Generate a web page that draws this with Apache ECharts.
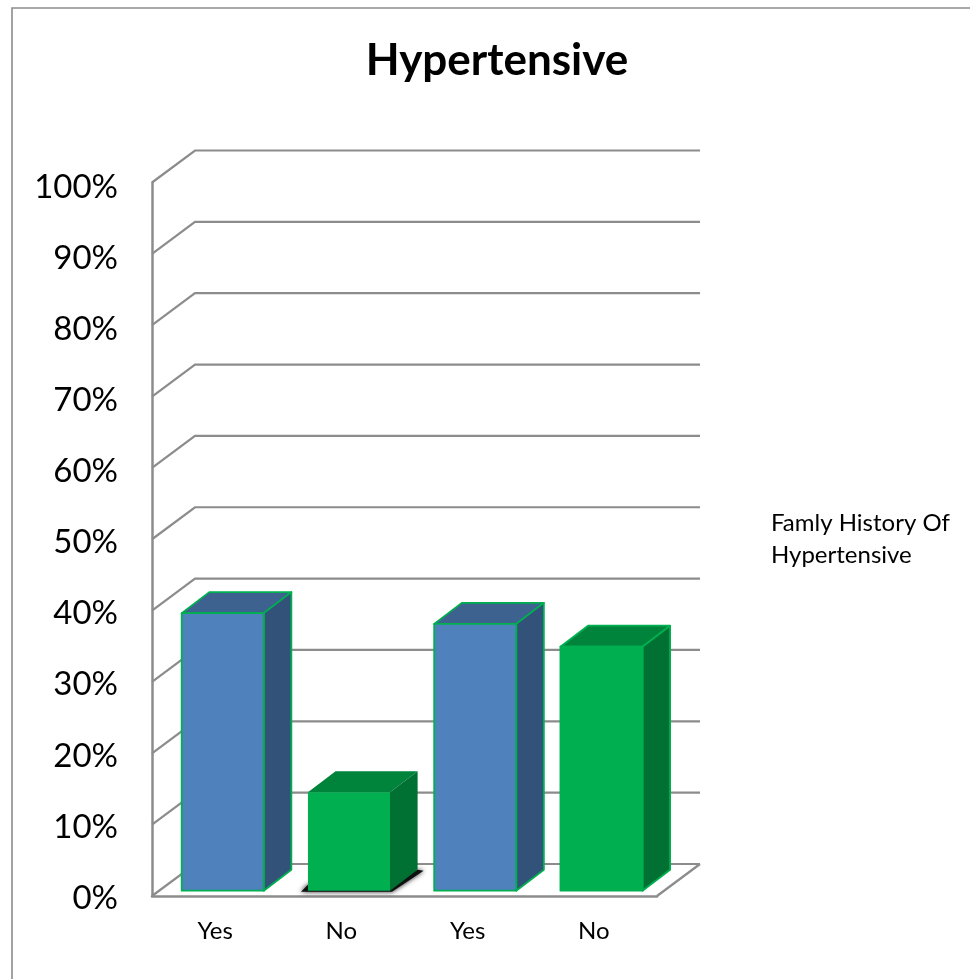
<!DOCTYPE html>
<html><head><meta charset="utf-8">
<style>html,body{margin:0;padding:0;background:#fff}#c{width:970px;height:979px}</style>
<script src="https://cdn.jsdelivr.net/npm/echarts@6/dist/echarts.min.js"></script>
</head><body><div id="c"></div>
<script>
const categories = ['Yes', 'No', 'Yes', 'No'];
const values = [38.9, 13.8, 37.4, 34.2];
const tickValues = [0, 10, 20, 30, 40, 50, 60, 70, 80, 90, 100];
const faceColors = ['#4f81bd', '#00b050', '#4f81bd', '#00b050'];
const topColors = ['#3d6290', '#00843c', '#3d6290', '#00843c'];
const sideColors = ['#32527a', '#007033', '#32527a', '#007033'];
const outlined = [true, false, true, true];
const castsShadow = [false, true, false, false];
const FONT = 'Lato';

const WALL_DX = 43, WALL_DY = -32;
const BAR_DX = 7.6, BAR_DY = -5.3;
const DEPTH_DX = 27.6, DEPTH_DY = -21;
const GRID_COLOR = '#8c8c8c';
const EDGE = '#00b050';

function wallItem(params, api) {
  const v = api.value(0);
  const cs = params.coordSys;
  const p = api.coord([0, v]);
  const left = cs.x, right = cs.x + cs.width;
  const style = { stroke: GRID_COLOR, lineWidth: 2.2, fill: 'none' };
  const children = [{
    type: 'polyline',
    shape: { points: [[left, p[1]], [left + WALL_DX, p[1] + WALL_DY], [right + WALL_DX, p[1] + WALL_DY]] },
    style
  }];
  if (v === 0) {
    children.push({
      type: 'line',
      shape: { x1: right, y1: p[1], x2: right + WALL_DX, y2: p[1] + WALL_DY },
      style
    });
  }
  return { type: 'group', children };
}

function barItem(params, api) {
  const i = api.value(0), v = api.value(1);
  const w = api.size([1, 0])[0] * 0.65;
  const top = api.coord([i, v]), base = api.coord([i, 0]);
  const x0 = top[0] - w / 2 + BAR_DX, x1 = x0 + w;
  const yt = top[1] + BAR_DY, yb = base[1] + BAR_DY;
  const dx = DEPTH_DX, dy = DEPTH_DY;
  const sw = outlined[i] ? 1.8 : 0;
  const st = (fill) => ({ fill, stroke: outlined[i] ? EDGE : fill, lineWidth: sw, lineJoin: 'round' });
  const children = [];
  if (castsShadow[i]) {
    children.push({
      type: 'polygon',
      shape: { points: [[x0 - 7, yb + 1], [x1 + 2, yb + 1], [x1 + dx + 6, yb + dy + 1], [x1 + dx, yb + dy], [x1, yb - 8], [x0, yb - 6]] },
      style: { fill: '#111', shadowBlur: 5, shadowColor: 'rgba(0,0,0,0.9)' }
    });
  }
  children.push(
    { type: 'polygon', shape: { points: [[x0, yt], [x1, yt], [x1 + dx, yt + dy], [x0 + dx, yt + dy]] }, style: st(topColors[i]) },
    { type: 'polygon', shape: { points: [[x1, yt], [x1 + dx, yt + dy], [x1 + dx, yb + dy], [x1, yb]] }, style: st(sideColors[i]) },
    { type: 'polygon', shape: { points: [[x0, yt], [x1, yt], [x1, yb], [x0, yb]] }, style: st(faceColors[i]) }
  );
  return { type: 'group', children };
}

const chart = echarts.init(document.getElementById('c'), null, { renderer: 'canvas' });
chart.setOption({
  animation: false,
  backgroundColor: '#fff',
  title: {
    text: 'Hypertensive', left: 492, top: 34, textAlign: 'center',
    textStyle: { fontFamily: FONT, fontWeight: 'bold', fontSize: 44, color: '#000' }
  },
  graphic: [
    { type: 'rect', z: -1, shape: { x: 12, y: 8, width: 970, height: 1000 }, style: { fill: '#fff', stroke: '#8c8c8c', lineWidth: 1.6 } },
    { type: 'text', left: 771, top: 507, style: { text: 'Famly History Of\nHypertensive', fontFamily: FONT, fontSize: 24, lineHeight: 32, fill: '#000' } }
  ],
  grid: [
    { left: 152, top: 182.5, width: 505, height: 713.5 },
    { left: 152, top: 187.5, width: 505, height: 710.5 }
  ],
  xAxis: [{
    type: 'category', data: categories,
    axisLine: { lineStyle: { color: GRID_COLOR, width: 2.5 } },
    axisTick: { show: false },
    axisLabel: { fontFamily: FONT, fontSize: 24, color: '#000', margin: 23 }
  }, {
    gridIndex: 1, type: 'category', data: categories, show: false
  }],
  yAxis: [{
    type: 'value', min: 0, max: 100, interval: 10,
    axisLine: { show: true, lineStyle: { color: GRID_COLOR, width: 2.5 } },
    axisTick: { show: false },
    splitLine: { show: false },
    axisLabel: { show: false }
  }, {
    gridIndex: 1, type: 'value', min: 0, max: 100, interval: 10,
    axisLine: { show: false }, axisTick: { show: false }, splitLine: { show: false },
    axisLabel: { formatter: '{value}%', fontFamily: FONT, fontSize: 33, color: '#000', margin: 34 }
  }],
  series: [
    { type: 'custom', z: 1, coordinateSystem: 'cartesian2d', silent: true, data: tickValues.map(v => [v]), encode: { y: 0 }, renderItem: wallItem },
    { type: 'custom', z: 3, coordinateSystem: 'cartesian2d', silent: true, data: values.map((v, i) => [i, v]), encode: { x: 0, y: 1 }, renderItem: barItem }
  ]
});
</script></body></html>
